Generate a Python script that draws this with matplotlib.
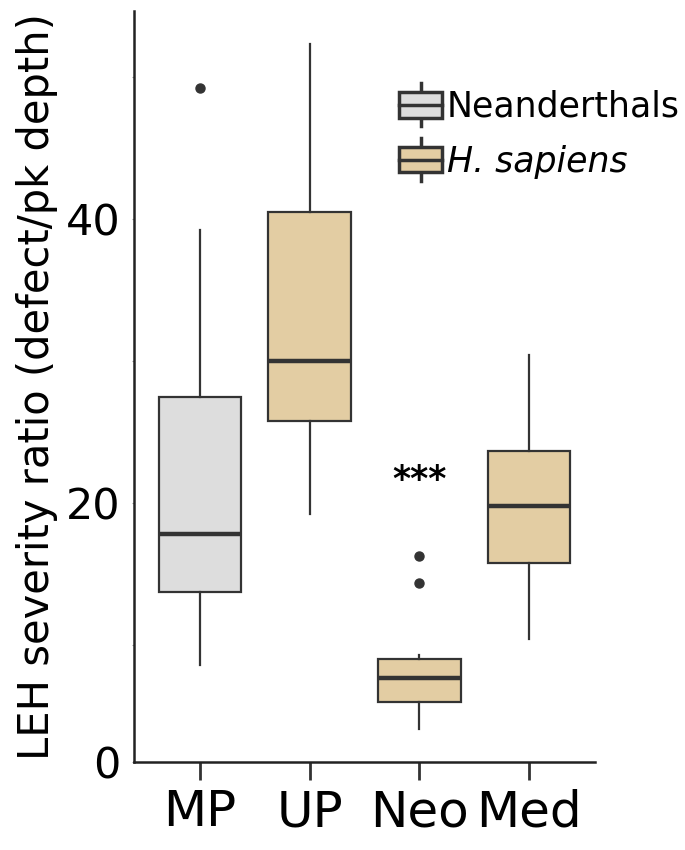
import matplotlib
matplotlib.use('Agg')
import matplotlib.pyplot as plt
from matplotlib.legend_handler import HandlerBase
from matplotlib.patches import Rectangle, Patch
from matplotlib.lines import Line2D

# values
groups = ['MP', 'UP', 'Neo', 'Med']
species = ['Neanderthals', 'H. sapiens', 'H. sapiens', 'H. sapiens']
whis_lo = [8.6, 19.2, 4.1, 10.4]
q1 = [13.7, 25.8, 6.0, 15.8]
med = [17.8, 30.0, 7.7, 19.8]
q3 = [27.5, 40.5, 9.0, 23.7]
whis_hi = [39.2, 52.3, 9.3, 30.4]
fliers = [[49.2], [], [16.3, 14.4], []]

fill = {'Neanderthals': '#DDDDDD', 'H. sapiens': '#E3CDA3'}
edge = '#333333'

y_lo, y_hi = 1.76, 54.65   # axis range of the original panel


class BoxHandler(HandlerBase):
    '''little boxplot glyph for the legend'''
    def create_artists(self, legend, orig_handle, xdescent, ydescent,
                       width, height, fontsize, trans):
        x0, y0 = -xdescent, -ydescent
        bh = height
        cx = x0 + width / 2.
        mid = y0 + height / 2.
        whisk = height * 0.35
        box = Rectangle((x0, y0), width, bh, facecolor=orig_handle.get_facecolor(),
                        edgecolor=edge, lw=2.5, transform=trans)
        m = Line2D([x0, x0 + width], [mid, mid], color=edge, lw=2.5, transform=trans)
        wt = Line2D([cx, cx], [y0 + bh, y0 + bh + whisk], color=edge, lw=2.5,
                    transform=trans)
        wb = Line2D([cx, cx], [y0, y0 - whisk], color=edge, lw=2.5, transform=trans)
        return [wt, wb, box, m]


stats = []
for i, g in enumerate(groups):
    stats.append(dict(label=g, whislo=whis_lo[i], q1=q1[i], med=med[i],
                      q3=q3[i], whishi=whis_hi[i], fliers=fliers[i]))

fig = plt.figure(figsize=(6.85, 8.5), dpi=100)
ax = fig.add_axes([0.1956, 0.1035, 0.673, 0.8835])

bp = ax.bxp(stats, positions=range(len(groups)), widths=0.75, patch_artist=True,
            showcaps=False,
            boxprops=dict(edgecolor=edge, linewidth=1.6),
            medianprops=dict(color=edge, linewidth=3.2),
            whiskerprops=dict(color=edge, linewidth=1.6),
            flierprops=dict(marker='o', markerfacecolor=edge, markeredgecolor=edge,
                            markersize=6.5))
for patch, sp in zip(bp['boxes'], species):
    patch.set_facecolor(fill[sp])

# significance mark over Neo
ax.text(2, 21.6, '***', ha='center', va='center', fontsize=25,
        fontweight='bold', color='black')

ax.set_xlim(-0.6, 3.6)
ax.set_ylim(y_lo, y_hi)
ax.set_xticks(range(len(groups)))
ax.set_xticklabels(groups, fontsize=36)
ax.set_yticks([y_lo, 20, 40])
ax.set_yticklabels(['0', '20', '40'], fontsize=31)
ax.set_yticks([10, 30, 50], minor=True)
ax.tick_params(axis='x', length=13, width=2, color=edge, pad=6)
ax.tick_params(axis='y', which='both', length=1.5, width=0.8, color='#999999', pad=8)
ax.set_ylabel('LEH severity ratio (defect/pk depth)', fontsize=30, labelpad=6)

for s in ['top', 'right']:
    ax.spines[s].set_visible(False)
for s in ['left', 'bottom']:
    ax.spines[s].set_linewidth(1.8)
    ax.spines[s].set_color('#222222')

handles = [Patch(facecolor=fill['Neanderthals']), Patch(facecolor=fill['H. sapiens'])]
leg = ax.legend(handles, ['Neanderthals', 'H. sapiens'],
                handler_map={Patch: BoxHandler()},
                loc='upper left', bbox_to_anchor=(0.575, 0.895),
                frameon=False, fontsize=25, handlelength=1.25, handleheight=0.75,
                handletextpad=0.12, labelspacing=0.6, borderpad=0, borderaxespad=0)
leg.get_texts()[1].set_style('italic')

fig.savefig('out.png', dpi=100)
